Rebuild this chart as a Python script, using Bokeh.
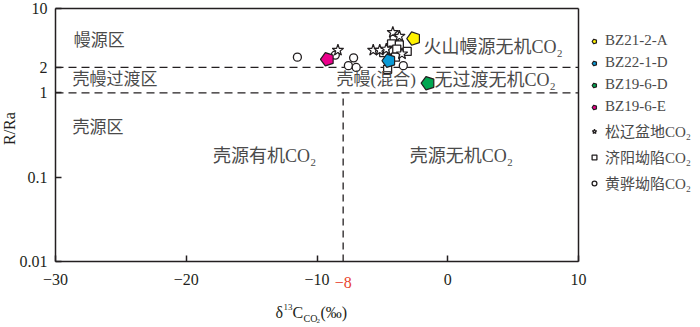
import math
from bokeh.plotting import figure
from bokeh.models import (Range1d, FixedTicker, Label, Legend, LegendItem,
                          LinearAxis, LogAxis, LogScale)
from bokeh.embed import file_html
from bokeh.resources import INLINE

# ---------------- data ----------------
bz_names = ["BZ21-2-A", "BZ22-1-D", "BZ19-6-D", "BZ19-6-E"]
bz_x = [-2.6, -4.5, -1.5, -9.2]
bz_y = [4.4, 2.4, 1.3, 2.5]
bz_colors = ["#fff200", "#0a9ad6", "#00a651", "#ec008c"]

songliao_x = [-4.2, -3.7, -5.7, -5.2, -4.7, -3.5, -8.4]
songliao_y = [5.2, 4.7, 3.2, 3.2, 3.3, 2.9, 3.2]

jiyang_x = [-4.1, -4.3, -3.7, -4.9, -4.2, -3.9, -3.1, -4.0, -4.6]
jiyang_y = [4.4, 3.8, 3.7, 3.0, 3.2, 3.3, 3.1, 2.65, 1.9]

huanghua_x = [-11.5, -8.6, -7.2, -7.6, -7.0, -3.4]
huanghua_y = [2.65, 2.8, 2.6, 2.1, 2.0, 2.1]

group_names = ["松辽盆地CO₂", "济阳坳陷CO₂", "黄骅坳陷CO₂"]

x_ticks = [-30, -20, -10, 0, 10]
x_tick_labels = ["−30", "−20", "−10", "0", "10"]
y_ticks = [0.01, 0.1, 1, 2, 10]
y_tick_labels = ["0.01", "0.1", "1", "2", "10"]
x_lim = (-30, 10)
y_lim = (0.01, 10)
ra_bounds = [2, 1]
c_bound = -8

# ---------------- figure ----------------
SERIF = "Liberation Serif"
MIX = "Liberation Serif, Noto Sans CJK SC"
INK = "#231f20"
GRAY = "#4a4a4a"

W, H = 698, 325
# pixel layout of the axes box inside the canvas
PX_L, PX_R, PX_T, PX_B = 55, 578, 8, 261
ppu = (PX_R - PX_L) / (x_lim[1] - x_lim[0])
ppd = (PX_B - PX_T) / (math.log10(y_lim[1]) - math.log10(y_lim[0]))
xr = Range1d(x_lim[0] - PX_L / ppu, x_lim[1] + (W - PX_R) / ppu)
yr = Range1d(10 ** (math.log10(y_lim[0]) - (H - PX_B) / ppd),
             10 ** (math.log10(y_lim[1]) + PX_T / ppd))

p = figure(width=W, height=H, x_range=xr, y_range=yr, y_axis_type="log",
           x_axis_location=None, y_axis_location=None,
           output_backend="svg", toolbar_location=None,
           min_border=0, min_border_left=0, min_border_right=0,
           min_border_top=0, min_border_bottom=0)
p.y_scale = LogScale()
p.grid.visible = False
p.outline_line_color = None
p.background_fill_color = "white"


def style(ax, labels=True):
    ax.axis_line_color = INK
    ax.axis_line_width = 1.5
    ax.major_tick_line_color = INK if labels else None
    ax.major_tick_line_width = 1.5
    ax.major_tick_in = 6
    ax.major_tick_out = 0
    ax.minor_tick_line_color = None
    ax.major_label_text_font = SERIF
    ax.major_label_text_font_size = "16px" if labels else "0px"
    ax.major_label_text_color = INK


xaxis = LinearAxis(fixed_location=y_lim[0], bounds=x_lim, ticker=FixedTicker(ticks=x_ticks),
                   major_label_overrides={t: l for t, l in zip(x_ticks, x_tick_labels)},
                   major_label_standoff=12)
style(xaxis)
p.add_layout(xaxis, "below")

yaxis = LogAxis(fixed_location=x_lim[0], bounds=y_lim, ticker=FixedTicker(ticks=y_ticks),
                major_label_overrides={t: l for t, l in zip(y_ticks, y_tick_labels)},
                major_label_standoff=8)
style(yaxis)
p.add_layout(yaxis, "left")

top_ax = LinearAxis(fixed_location=y_lim[1], bounds=x_lim, ticker=FixedTicker(ticks=[]))
style(top_ax, labels=False)
p.add_layout(top_ax, "above")
right_ax = LogAxis(fixed_location=x_lim[1], bounds=y_lim, ticker=FixedTicker(ticks=[]))
style(right_ax, labels=False)
p.add_layout(right_ax, "right")

# region boundaries
p.segment(x0=[x_lim[0]] * 2, y0=ra_bounds, x1=[x_lim[1]] * 2, y1=ra_bounds,
          line_color=INK, line_width=1.3, line_dash="8 5")
p.segment(x0=[c_bound], y0=[y_lim[0]], x1=[c_bound], y1=[ra_bounds[1]],
          line_color=INK, line_width=1.3, line_dash="7 5")

# scatter groups
r_hh = p.scatter(huanghua_x, huanghua_y, marker="circle", size=8, fill_color="white",
                 line_color=INK, line_width=1.3)
r_jy = p.scatter(jiyang_x, jiyang_y, marker="square", size=8, fill_color="white",
                 line_color=INK, line_width=1.3)
r_sl = p.scatter(songliao_x, songliao_y, marker="star", size=12, fill_color="white",
                 line_color=INK, line_width=1.2)

bz_renderers = []
for i in range(len(bz_x)):
    try:
        r = p.ngon(x=[bz_x[i]], y=[bz_y[i]], radius=7, radius_units="screen", n=5,
                   angle=math.pi / 2, fill_color=bz_colors[i], line_color=INK, line_width=1.2)
    except Exception:
        r = p.scatter([bz_x[i]], [bz_y[i]], marker="hex", size=13, fill_color=bz_colors[i],
                      line_color=INK, line_width=1.2)
    bz_renderers.append(r)

# legend (right of the axes box)
items = [LegendItem(label=n, renderers=[r]) for n, r in zip(bz_names, bz_renderers)]
items += [LegendItem(label=group_names[0], renderers=[r_sl]),
          LegendItem(label=group_names[1], renderers=[r_jy]),
          LegendItem(label=group_names[2], renderers=[r_hh])]
legend = Legend(items=items, location=(588, H - 193), padding=0, margin=0, spacing=5,
                glyph_width=12, glyph_height=14, label_height=14, label_standoff=5,
                label_text_font=MIX, label_text_font_size="15px", label_text_color=GRAY,
                border_line_color=None, background_fill_alpha=0)
p.add_layout(legend)


def txt(x, y, t, align="left", size="18px", color=GRAY, font=MIX, baseline="middle", angle=0):
    p.add_layout(Label(x=x, y=y, text=t, text_align=align, text_baseline=baseline,
                       text_font=font, text_font_size=size,
                       text_color=color, angle=angle))


# region texts
txt(-28.6, 4.2, "幔源区", size="17px")
txt(-28.7, 1.42, "壳幔过渡区", size="17px")
txt(-28.7, 0.388, "壳源区", size="17px")
txt(-14.0, 0.177, "壳源有机CO₂", align="center")
txt(1.05, 0.177, "壳源无机CO₂", align="center")
txt(-1.85, 3.48, "火山幔源无机CO₂")
txt(-8.51, 1.42, "壳幔(混合)", size="17px")
txt(-1.01, 1.42, "无过渡无机CO₂")

# axis titles and the -8 label
txt(-33.52, 0.377, "R/Ra", align="center", size="16px", color=INK, font=SERIF, angle=math.pi / 2)
txt(c_bound, 0.00565, "−8", align="center", size="16px", color="#e8432e", font=SERIF)
txt(-13.17, 0.00251, "δ", size="16px", color=INK, font=SERIF)
txt(-12.56, 0.00292, "13", size="9px", color=INK, font=SERIF)
txt(-11.87, 0.00251, "C", size="16px", color=INK, font=SERIF)
txt(-11.03, 0.00213, "CO", size="10px", color=INK, font=SERIF)
txt(-10.04, 0.00195, "2", size="7px", color=INK, font=SERIF)
txt(-9.73, 0.00251, "(‰)", size="16px", color=INK, font=SERIF)

open("out.html", "w").write(file_html(p, INLINE))
